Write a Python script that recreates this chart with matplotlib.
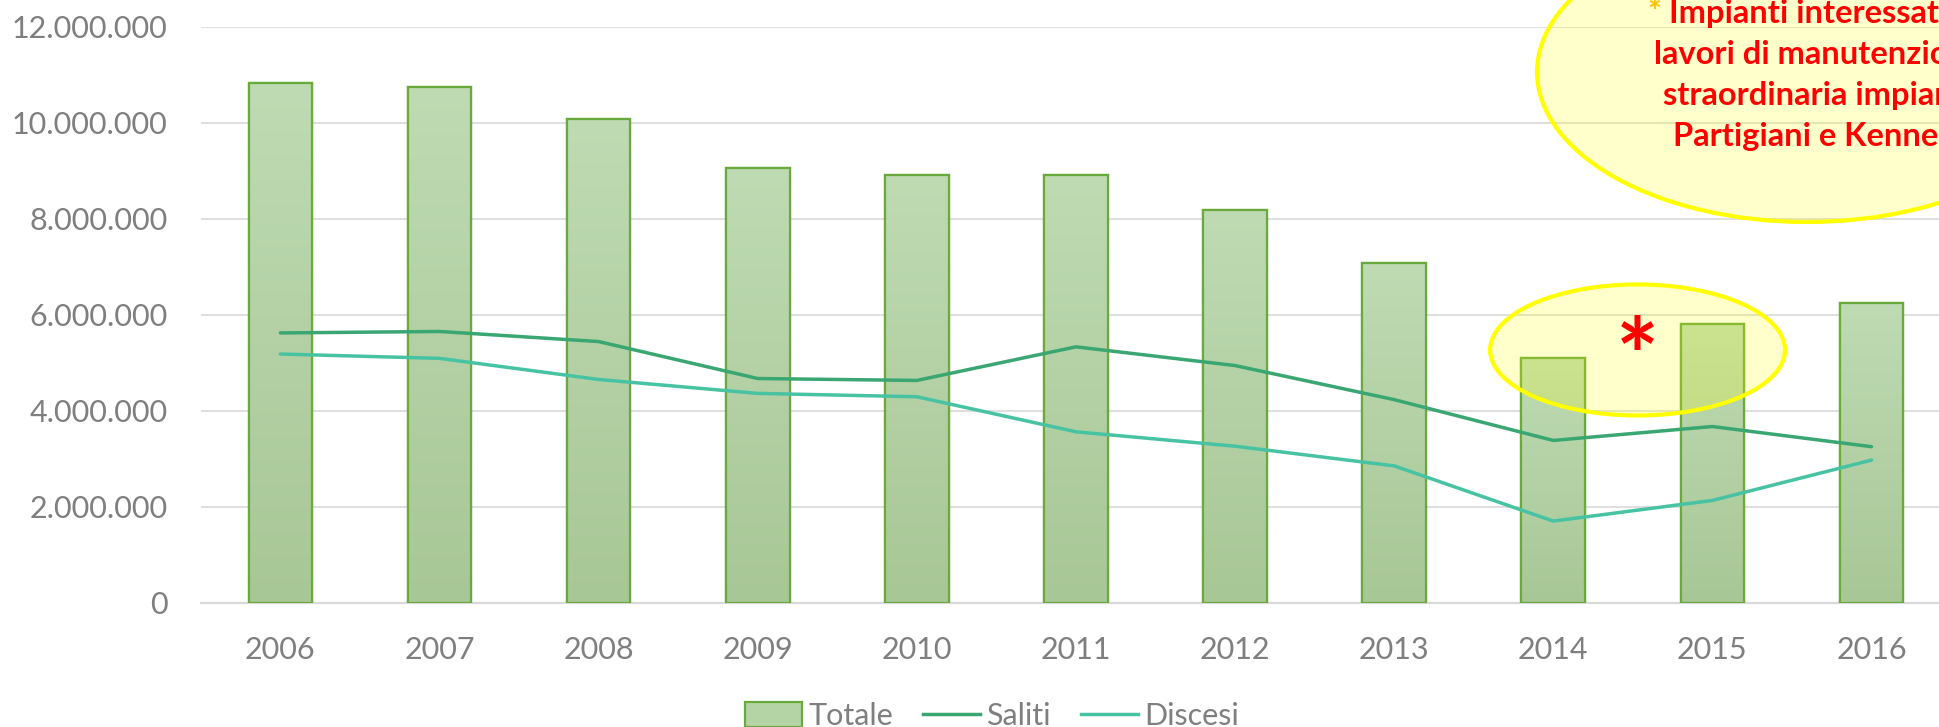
import matplotlib
matplotlib.use("Agg")
import matplotlib.pyplot as plt
import numpy as np
from matplotlib.patches import Ellipse, Patch, Rectangle
from matplotlib.lines import Line2D
from matplotlib.colors import LinearSegmentedColormap
from matplotlib.ticker import FuncFormatter, MultipleLocator

# Passengers per year
years = ["2006", "2007", "2008", "2009", "2010", "2011",
         "2012", "2013", "2014", "2015", "2016"]
totale = [10820000, 10750000, 10080000, 9050000, 8920000, 8900000,
          8180000, 7070000, 5090000, 5810000, 6240000]
saliti = [5620000, 5650000, 5440000, 4670000, 4630000, 5330000,
          4940000, 4230000, 3380000, 3670000, 3250000]
discesi = [5180000, 5090000, 4650000, 4360000, 4290000, 3560000,
           3260000, 2850000, 1700000, 2130000, 2970000]

FONT = "Lato"
TICK_GREY = "#7f7f7f"
GRID = "#d9d9d9"
BAR_EDGE = "#6aaa3c"
SALITI_C = "#3aa672"
DISCESI_C = "#47c3a3"

plt.rcParams["font.family"] = [FONT, "DejaVu Sans"]

fig = plt.figure(figsize=(19.39, 7.27), dpi=100)
W, H = 1939, 727
ax = fig.add_axes([0.1036, 0.1710, 0.9026, 0.7923])

x = np.arange(len(years))
bar_w = 0.40

ax.set_xlim(-0.5, len(years) - 0.5)
ax.set_ylim(0, 12000000)
ax.set_autoscale_on(False)

# gridlines
ax.yaxis.set_major_locator(MultipleLocator(2000000))
ax.grid(axis="y", color=GRID, linewidth=1.2, zorder=0)
ax.set_axisbelow(True)

# bars with a soft vertical gradient
grad_cmap = LinearSegmentedColormap.from_list("bar", ["#a8c796", "#bedbb3"])
grad = np.linspace(0, 1, 256).reshape(-1, 1)
bars = ax.bar(x, totale, width=bar_w, color="#b5d4a6", edgecolor=BAR_EDGE,
              linewidth=1.6, zorder=2)
for b in bars:
    x0, w, h = b.get_x(), b.get_width(), b.get_height()
    im = ax.imshow(grad, cmap=grad_cmap, origin="lower", aspect="auto",
                   extent=[x0, x0 + w, 0, h], zorder=2.1)
    im.set_clip_path(b)
    ax.add_patch(Rectangle((x0, 0), w, h, fill=False, edgecolor=BAR_EDGE,
                           linewidth=1.6, zorder=2.2))

ax.plot(x, saliti, color=SALITI_C, linewidth=2.5, zorder=3,
        solid_capstyle="round", solid_joinstyle="round")
ax.plot(x, discesi, color=DISCESI_C, linewidth=2.5, zorder=3,
        solid_capstyle="round", solid_joinstyle="round")

# axes styling
for s in ["top", "right", "left"]:
    ax.spines[s].set_visible(False)
ax.spines["bottom"].set_color(GRID)
ax.spines["bottom"].set_linewidth(1.6)
ax.spines["bottom"].set_zorder(1)

ax.set_xticks(x)
ax.set_xticklabels(years)
ax.yaxis.set_major_formatter(
    FuncFormatter(lambda v, p: f"{int(v):,}".replace(",", ".")))
ax.tick_params(axis="both", length=0, labelsize=22, labelcolor=TICK_GREY)
ax.tick_params(axis="y", pad=24)
ax.tick_params(axis="x", pad=24)

# highlight of 2014-2015
small = Ellipse((8.53, 5265000), 1.854, 2730000, facecolor=(1, 1, 0, 0.2),
                edgecolor="#ffff00", linewidth=3, zorder=4)
ax.add_patch(small)
ax.text(8.53, 4370000, "*", color="#ff0000", fontsize=73, fontweight="bold",
        ha="center", va="baseline", zorder=5)

# explanatory note
big = Ellipse((9.595, 11056000), 3.394, 6250000, facecolor=(1, 1, 0, 0.2),
              edgecolor="#ffff00", linewidth=3, zorder=4, clip_on=False)
ax.add_patch(big)

note_lines = ["Impianti interessati dai", "lavori di manutenzione",
              "straordinaria impianti", "Partigiani e Kennedy"]
note_x = [1647, 1654, 1663, 1673]
note_base = [23, 64, 105, 146]
NOTE_FS = 23.5
fig.text(note_x[0] / W, 1 - note_base[0] / H, "*", color="#ffc000",
         fontsize=NOTE_FS, fontweight="bold", ha="left", va="baseline")
fig.text((note_x[0] + 22) / W, 1 - note_base[0] / H, note_lines[0],
         color="#ff0000", fontsize=NOTE_FS, fontweight="bold", ha="left",
         va="baseline")
for t, nx, nb in zip(note_lines[1:], note_x[1:], note_base[1:]):
    fig.text(nx / W, 1 - nb / H, t, color="#ff0000", fontsize=NOTE_FS,
             fontweight="bold", ha="left", va="baseline")

# legend
handles = [Patch(facecolor="#b5d4a6", edgecolor=BAR_EDGE, linewidth=1.6),
           Line2D([], [], color=SALITI_C, linewidth=2.5),
           Line2D([], [], color=DISCESI_C, linewidth=2.5)]
fig.legend(handles, ["Totale", "Saliti", "Discesi"], loc="center",
           bbox_to_anchor=(992 / W, 1 - 716 / H), ncol=3, frameon=False,
           fontsize=22, labelcolor=TICK_GREY, handlelength=1.85,
           handleheight=0.9, handletextpad=0.2, columnspacing=1.0)

fig.savefig("out.png", dpi=100)
